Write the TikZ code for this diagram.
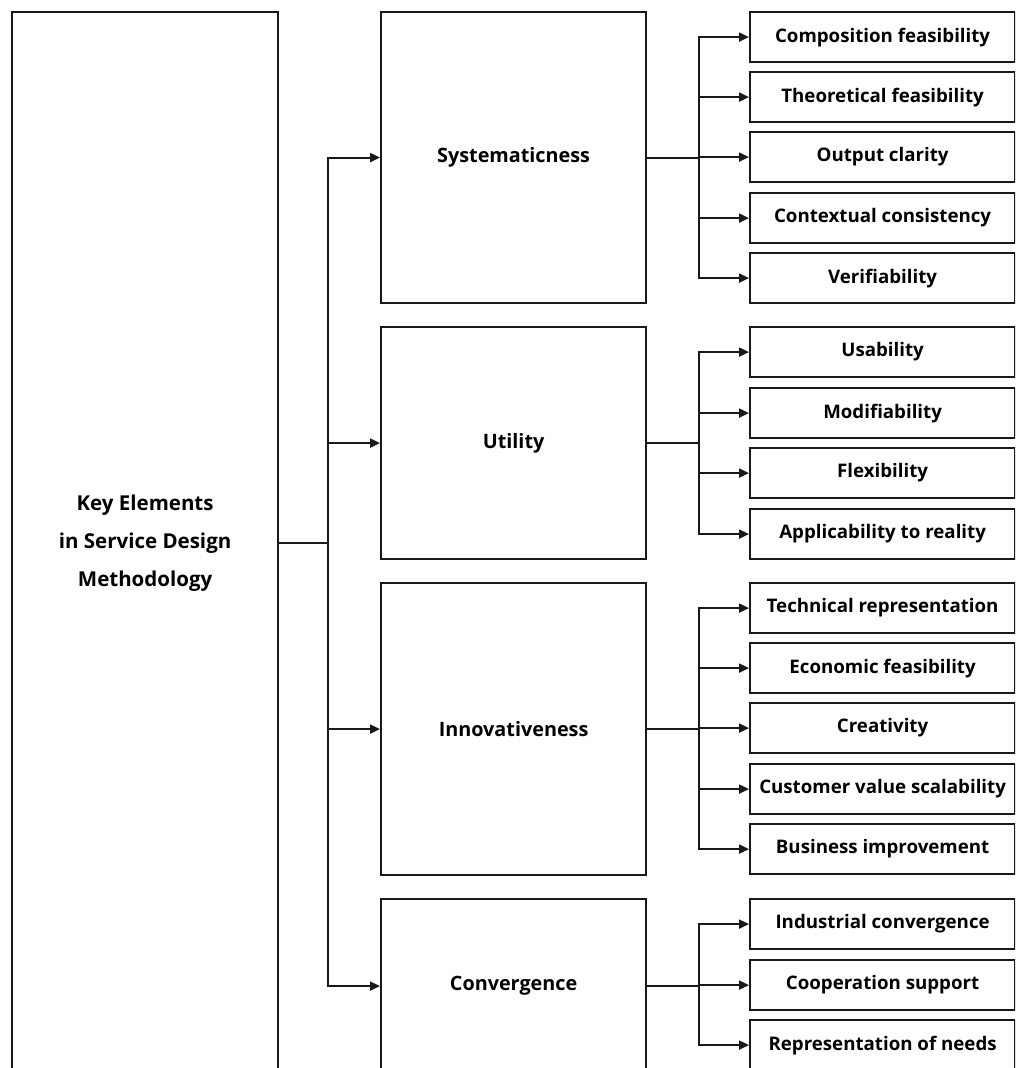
\documentclass[tikz,border=0pt]{standalone}
\usepackage{fontspec}
\setmainfont{Open Sans}
\usetikzlibrary{arrows.meta}
\begin{document}
\begin{tikzpicture}[x=1pt,y=-1pt,
  box/.style={draw=black!90,line width=2.2pt,rectangle,inner sep=0pt,anchor=north west,align=center,font=\bfseries\fontsize{18.7}{22}\selectfont},
  big/.style={box,font=\bfseries\fontsize{20.5}{38}\selectfont},
  leaf/.style={box,minimum width=265pt,minimum height=50pt},
  mid/.style={box,minimum width=265pt,font=\bfseries\fontsize{19.8}{22}\selectfont},
  arr/.style={line width=2.2pt,draw=black!90,-{Triangle[length=10pt,width=9pt]}},
  ln/.style={line width=2.2pt,draw=black!90}]
\useasboundingbox (0,0) rectangle (1015,1068);
\clip (0,0) rectangle (1015,1068);
% left
\node[big,minimum width=266pt,minimum height=1062pt] (K) at (11,11) {Key Elements\\in Service Design\\Methodology};
% middle
\node[mid,minimum height=291pt] (S) at (380,11) {Systematicness};
\node[mid,minimum height=232pt] (U) at (380,326) {Utility};
\node[mid,minimum height=292pt] (I) at (380,582) {Innovativeness};
\node[mid,minimum height=174pt] (C) at (380,898) {Convergence};
% leaves
\node[leaf] (s1) at (749,11) {Composition feasibility};
\node[leaf] (s2) at (749,71) {Theoretical feasibility};
\node[leaf] (s3) at (749,131) {Output clarity};
\node[leaf] (s4) at (749,192) {Contextual consistency};
\node[leaf] (s5) at (749,252) {Verifiability};
\node[leaf] (u1) at (749,326) {Usability};
\node[leaf] (u2) at (749,387) {Modifiability};
\node[leaf] (u3) at (749,447) {Flexibility};
\node[leaf] (u4) at (749,508) {Applicability to reality};
\node[leaf] (i1) at (749,582) {Technical representation};
\node[leaf] (i2) at (749,642) {Economic feasibility};
\node[leaf] (i3) at (749,702) {Creativity};
\node[leaf] (i4) at (749,763) {Customer value scalability};
\node[leaf] (i5) at (749,823) {Business improvement};
\node[leaf] (c1) at (749,898) {Industrial convergence};
\node[leaf] (c2) at (749,959) {Cooperation support};
\node[leaf] (c3) at (749,1019) {Representation of needs};
% trunk
\coordinate (T) at (328,542);
\draw[ln] (K.east) -- (K.east -| T);
\foreach \m in {S,U,I,C} \draw[arr] (K.east -| T) |- (\m.west);
% branches
\foreach \m/\list in {S/{s1,s2,s3,s4,s5},U/{u1,u2,u3,u4},I/{i1,i2,i3,i4,i5},C/{c1,c2,c3}}{
  \draw[ln] (\m.east) -- ++(52,0) coordinate (\m b);
  \foreach \c in \list \draw[arr] (\m b) |- (\c.west);
}
\end{tikzpicture}
\end{document}
